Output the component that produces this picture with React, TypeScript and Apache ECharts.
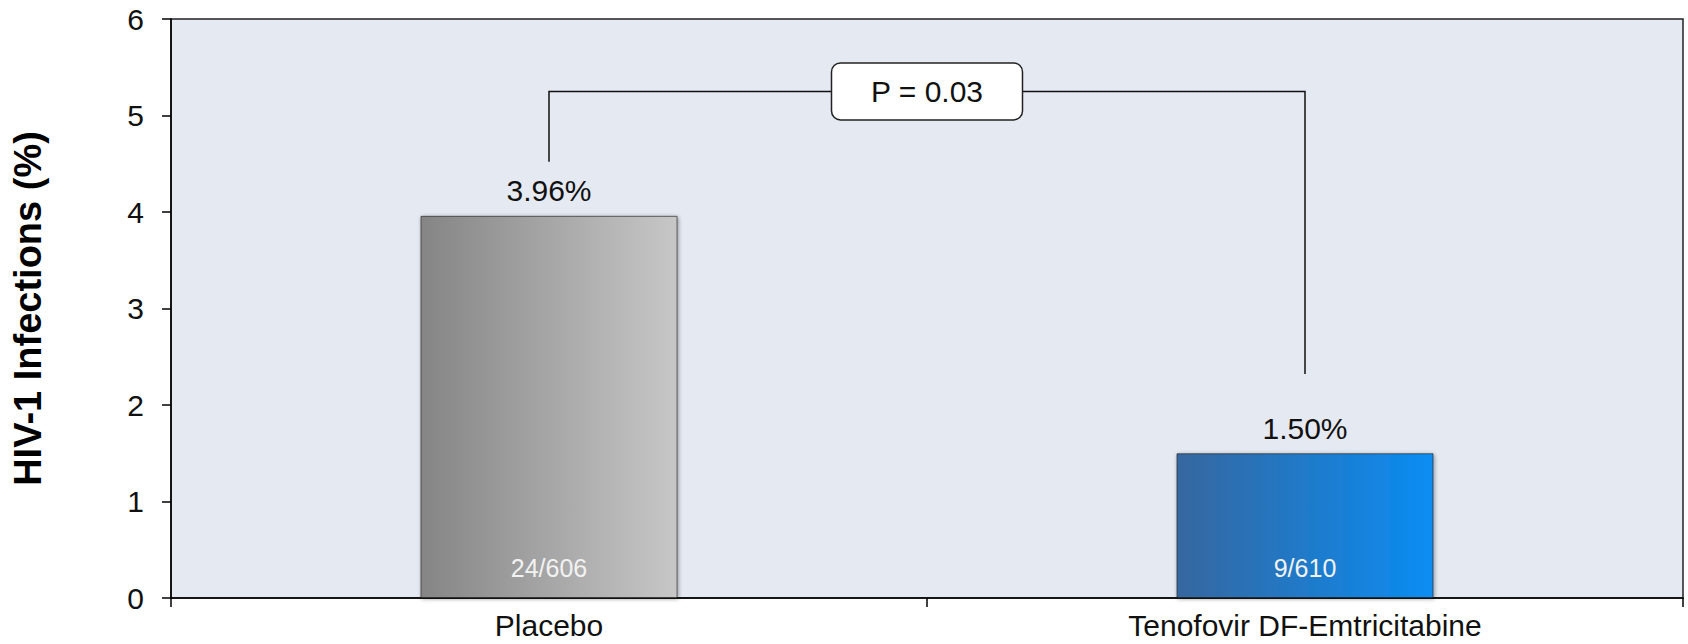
import React, { useEffect, useRef } from "react";
import * as echarts from "echarts";

const categories = ["Placebo", "Tenofovir DF-Emtricitabine"];
const infectionPct = [3.96, 1.5];
const valueLabels = ["3.96%", "1.50%"];
const countLabels = ["24/606", "9/610"];
const yTicks = [0, 1, 2, 3, 4, 5, 6];
const yAxisTitle = "HIV-1 Infections (%)";
const pValueText = "P = 0.03";
// bracket: [leftCategory, rightCategory, leftEndY, topY, rightEndY]
const bracket = [[0, 1, 4.52, 5.25, 2.32]];

const FONT = "'Liberation Sans', Arial, sans-serif";

export default function App() {
  const ref = useRef<HTMLDivElement>(null);
  useEffect(() => {
    document.body.style.margin = "0";
    const chart = echarts.init(ref.current!, null, { renderer: "svg" });
    const gradGray = new echarts.graphic.LinearGradient(0, 0, 1, 0, [
      { offset: 0, color: "#858585" },
      { offset: 1, color: "#c7c7c7" },
    ]);
    const gradBlue = new echarts.graphic.LinearGradient(0, 0, 1, 0, [
      { offset: 0, color: "#36679f" },
      { offset: 1, color: "#0a8df3" },
    ]);
    const grads = [gradGray, gradBlue];
    chart.setOption({
      animation: false,
      grid: {
        left: 171,
        right: 5,
        top: 19,
        bottom: 46,
        show: true,
        backgroundColor: "#e5e9f1",
        borderColor: "#222",
        borderWidth: 1.5,
      },
      xAxis: {
        type: "category",
        data: categories,
        axisLine: { lineStyle: { color: "#000", width: 1.5 } },
        axisTick: { show: true, length: 9, lineStyle: { color: "#000", width: 1.5 } },
        axisLabel: { fontSize: 30, color: "#111", fontFamily: FONT, margin: 12 },
      },
      yAxis: {
        type: "value",
        min: yTicks[0],
        max: yTicks[yTicks.length - 1],
        interval: 1,
        name: yAxisTitle,
        nameLocation: "middle",
        nameGap: 124,
        nameTextStyle: { fontSize: 38, fontWeight: "bold", color: "#000", fontFamily: FONT },
        axisLine: { show: true, lineStyle: { color: "#000", width: 1.5 } },
        axisTick: { show: true, length: 9, lineStyle: { color: "#000", width: 1.5 } },
        axisLabel: { fontSize: 30, color: "#111", fontFamily: FONT, margin: 27 },
        splitLine: { show: false },
      },
      series: [
        {
          type: "bar",
          barWidth: "34%",
          data: infectionPct.map((v, i) => ({
            value: v,
            itemStyle: {
              color: grads[i],
              borderColor: "rgba(30,30,30,0.6)",
              borderWidth: 1,
              shadowColor: "rgba(0,0,0,0.4)",
              shadowBlur: 4,
              shadowOffsetX: 1,
              shadowOffsetY: 1,
            },
          })),
          label: {
            show: true,
            position: "top",
            distance: 10,
            fontSize: 30,
            color: "#111",
            fontFamily: FONT,
            formatter: (p: any) => valueLabels[p.dataIndex],
          },
          z: 2,
        },
        {
          type: "bar",
          barWidth: "34%",
          barGap: "-100%",
          data: infectionPct,
          itemStyle: { color: "rgba(0,0,0,0)" },
          label: {
            show: true,
            position: "insideBottom",
            distance: 18,
            fontSize: 25,
            color: "#f2f2f2",
            fontFamily: FONT,
            formatter: (p: any) => countLabels[p.dataIndex],
          },
          z: 3,
        },
        {
          type: "custom",
          data: bracket,
          encode: { x: 0, y: 3 },
          z: 5,
          renderItem: (params: any, api: any) => {
            const l = api.value(0);
            const r = api.value(1);
            const pl = api.coord([l, api.value(2)]);
            const ptl = api.coord([l, api.value(3)]);
            const ptr = api.coord([r, api.value(3)]);
            const pr = api.coord([r, api.value(4)]);
            const cx = (ptl[0] + ptr[0]) / 2;
            const cy = ptl[1];
            const bw = 191;
            const bh = 57;
            return {
              type: "group",
              children: [
                {
                  type: "polyline",
                  shape: { points: [pl, ptl, ptr, pr] },
                  style: { stroke: "#111", lineWidth: 1.5, fill: "none" },
                },
                {
                  type: "rect",
                  shape: { x: cx - bw / 2, y: cy - bh / 2, width: bw, height: bh, r: 9 },
                  style: { fill: "#fff", stroke: "#222", lineWidth: 1.5 },
                },
                {
                  type: "text",
                  x: cx,
                  y: cy,
                  style: {
                    text: pValueText,
                    fontSize: 30,
                    fontFamily: FONT,
                    fill: "#111",
                    align: "center",
                    verticalAlign: "middle",
                  },
                },
              ],
            };
          },
        },
      ],
    });
    return () => chart.dispose();
  }, []);
  return <div ref={ref} style={{ width: 1688, height: 644 }} />;
}
